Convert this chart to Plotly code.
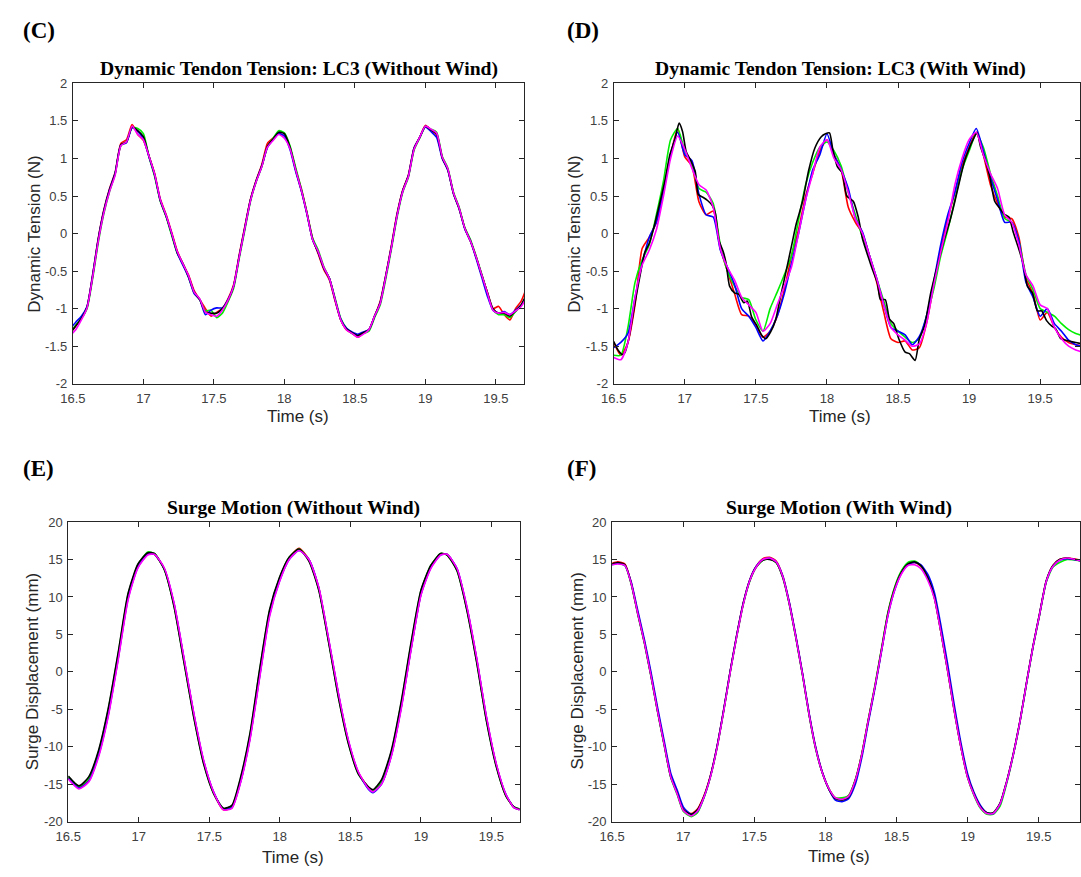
import plotly.graph_objects as go

W, H = 1081, 877

# ---------------- Panel C : tension without wind (common time grid) ----------------
T_C = [16.48, 16.52, 16.56, 16.60, 16.64, 16.68, 16.72, 16.76, 16.80, 16.84,
       16.88, 16.92, 16.96, 17.00, 17.04, 17.08, 17.12, 17.16, 17.20, 17.24,
       17.28, 17.32, 17.36, 17.40, 17.44, 17.48, 17.52, 17.56, 17.60, 17.64,
       17.68, 17.72, 17.76, 17.80, 17.84, 17.88, 17.92, 17.96, 18.00, 18.04,
       18.08, 18.12, 18.16, 18.20, 18.24, 18.28, 18.32, 18.36, 18.40, 18.44,
       18.48, 18.52, 18.56, 18.60, 18.64, 18.68, 18.72, 18.76, 18.80, 18.84,
       18.88, 18.92, 18.96, 19.00, 19.04, 19.08, 19.12, 19.16, 19.20, 19.24,
       19.28, 19.32, 19.36, 19.40, 19.44, 19.48, 19.52, 19.56, 19.60, 19.64,
       19.68, 19.72, 19.76, 19.80]
C_black = [-1.33, -1.23, -1.13, -0.98, -0.57, -0.08, 0.30, 0.58, 0.80, 1.18,
           1.22, 1.42, 1.37, 1.29, 1.03, 0.78, 0.44, 0.24, 0.00, -0.25,
           -0.40, -0.57, -0.78, -0.88, -1.05, -1.06, -1.06, -1.00, -0.89, -0.70,
           -0.30, 0.08, 0.45, 0.70, 0.90, 1.16, 1.26, 1.35, 1.33, 1.15,
           0.85, 0.58, 0.27, -0.08, -0.25, -0.46, -0.60, -0.88, -1.15, -1.27,
           -1.32, -1.36, -1.32, -1.28, -1.10, -0.92, -0.56, -0.17, 0.25, 0.57,
           0.77, 1.13, 1.28, 1.43, 1.38, 1.33, 1.01, 0.85, 0.53, 0.33,
           0.07, -0.10, -0.31, -0.55, -0.78, -1.00, -1.06, -1.06, -1.10, -1.03,
           -0.95, -0.80, -0.62, -0.50]
C_red = [-1.33, -1.23, -1.13, -0.98, -0.55, -0.06, 0.32, 0.60, 0.82, 1.20,
         1.25, 1.45, 1.32, 1.24, 1.03, 0.80, 0.46, 0.26, 0.02, -0.23,
         -0.40, -0.55, -0.76, -0.88, -1.00, -1.10, -1.05, -1.00, -0.87, -0.68,
         -0.28, 0.10, 0.46, 0.71, 0.92, 1.20, 1.27, 1.33, 1.30, 1.15,
         0.86, 0.60, 0.28, -0.06, -0.27, -0.48, -0.62, -0.90, -1.15, -1.28,
         -1.33, -1.38, -1.33, -1.28, -1.10, -0.90, -0.55, -0.15, 0.27, 0.58,
         0.78, 1.14, 1.28, 1.44, 1.38, 1.31, 1.02, 0.85, 0.54, 0.34,
         0.07, -0.10, -0.31, -0.55, -0.78, -1.00, -0.97, -1.08, -1.15, -1.00,
         -0.90, -0.72, -0.60, -0.50]
C_green = [-1.31, -1.22, -1.13, -1.00, -0.60, -0.12, 0.27, 0.56, 0.80, 1.17,
           1.22, 1.41, 1.40, 1.33, 1.02, 0.76, 0.43, 0.23, -0.02, -0.26,
           -0.40, -0.58, -0.79, -0.88, -1.03, -1.02, -1.12, -1.06, -0.91, -0.73,
           -0.33, 0.05, 0.43, 0.69, 0.89, 1.15, 1.27, 1.37, 1.34, 1.17,
           0.88, 0.60, 0.28, -0.06, -0.22, -0.44, -0.60, -0.86, -1.13, -1.26,
           -1.33, -1.35, -1.33, -1.30, -1.12, -0.95, -0.60, -0.20, 0.22, 0.55,
           0.75, 1.11, 1.27, 1.42, 1.39, 1.35, 1.03, 0.87, 0.55, 0.35,
           0.08, -0.08, -0.30, -0.54, -0.80, -1.02, -1.08, -1.08, -1.12, -1.04,
           -0.96, -0.82, -0.64, -0.52]
C_blue = [-1.27, -1.18, -1.10, -0.97, -0.55, -0.07, 0.31, 0.59, 0.81, 1.18,
          1.21, 1.41, 1.36, 1.26, 1.02, 0.78, 0.44, 0.24, 0.00, -0.26,
          -0.42, -0.58, -0.80, -0.88, -1.08, -1.02, -0.99, -0.99, -0.88, -0.70,
          -0.30, 0.08, 0.45, 0.70, 0.90, 1.15, 1.25, 1.33, 1.30, 1.12,
          0.83, 0.57, 0.26, -0.08, -0.25, -0.46, -0.60, -0.88, -1.14, -1.26,
          -1.31, -1.34, -1.31, -1.28, -1.10, -0.92, -0.56, -0.17, 0.25, 0.57,
          0.77, 1.14, 1.28, 1.42, 1.36, 1.28, 1.00, 0.84, 0.53, 0.33,
          0.06, -0.10, -0.33, -0.58, -0.83, -1.02, -1.06, -1.04, -1.08, -1.02,
          -0.95, -0.82, -0.64, -0.52]
C_magenta = [-1.36, -1.28, -1.15, -0.99, -0.58, -0.10, 0.28, 0.56, 0.78, 1.17,
             1.22, 1.43, 1.32, 1.25, 1.03, 0.79, 0.45, 0.25, 0.01, -0.24,
             -0.40, -0.56, -0.78, -0.87, -1.05, -1.08, -1.10, -1.02, -0.89, -0.70,
             -0.31, 0.07, 0.44, 0.69, 0.89, 1.15, 1.24, 1.32, 1.27, 1.13,
             0.85, 0.58, 0.27, -0.08, -0.24, -0.45, -0.60, -0.88, -1.15, -1.28,
             -1.33, -1.38, -1.34, -1.28, -1.10, -0.93, -0.57, -0.18, 0.24, 0.56,
             0.76, 1.12, 1.28, 1.43, 1.39, 1.34, 1.02, 0.86, 0.54, 0.34,
             0.07, -0.10, -0.31, -0.55, -0.79, -1.02, -1.06, -1.05, -1.08, -1.03,
             -0.97, -0.84, -0.65, -0.52]

# ---------------- Panel D : tension with wind ----------------
T_D_black = [16.48, 16.50, 16.53, 16.56, 16.58, 16.606, 16.65, 16.684, 16.717, 16.75,
             16.784, 16.817, 16.86, 16.895, 16.93, 16.96, 16.984, 17.01, 17.04, 17.073,
             17.095, 17.13, 17.16, 17.195, 17.216, 17.24, 17.27, 17.29, 17.315, 17.35,
             17.38, 17.415, 17.44, 17.47, 17.505, 17.54, 17.57, 17.604, 17.64, 17.67,
             17.715, 17.75, 17.784, 17.83, 17.87, 17.915, 17.96, 17.99, 18.018, 18.04,
             18.073, 18.107, 18.14, 18.185, 18.22, 18.25, 18.29, 18.32, 18.355, 18.376,
             18.41, 18.44, 18.47, 18.505, 18.55, 18.58, 18.62, 18.65, 18.686, 18.73,
             18.775, 18.82, 18.865, 18.9, 18.933, 18.967, 19.0, 19.033, 19.056, 19.08,
             19.11, 19.145, 19.18, 19.21, 19.245, 19.28, 19.31, 19.345, 19.38, 19.41,
             19.445, 19.48, 19.51, 19.545, 19.58, 19.61, 19.645, 19.7, 19.8]
D_black = [-1.38, -1.44, -1.55, -1.61, -1.58, -1.40, -0.92, -0.57, -0.26, -0.13,
           0.09, 0.35, 0.70, 1.05, 1.25, 1.47, 1.36, 1.09, 0.98, 0.83,
           0.52, 0.48, 0.44, 0.37, 0.26, -0.09, -0.24, -0.39, -0.70, -0.79,
           -0.81, -0.92, -0.90, -1.11, -1.22, -1.35, -1.40, -1.31, -1.14, -0.87,
           -0.48, -0.17, 0.13, 0.44, 0.83, 1.14, 1.29, 1.33, 1.34, 1.13,
           0.89, 0.81, 0.50, 0.43, 0.22, -0.07, -0.31, -0.48, -0.66, -0.88,
           -0.88, -1.14, -1.20, -1.40, -1.58, -1.60, -1.69, -1.40, -1.23, -0.79,
           -0.44, -0.11, 0.17, 0.43, 0.70, 0.96, 1.13, 1.27, 1.35, 1.16,
           1.00, 0.76, 0.43, 0.35, 0.26, 0.22, 0.02, -0.18, -0.40, -0.70,
           -0.79, -1.03, -1.03, -1.16, -1.23, -1.27, -1.40, -1.43, -1.47]

T_D = [16.50, 16.55, 16.60, 16.65, 16.70, 16.75, 16.80, 16.85, 16.90, 16.95,
       17.00, 17.05, 17.10, 17.15, 17.20, 17.25, 17.30, 17.35, 17.40, 17.45,
       17.50, 17.55, 17.60, 17.65, 17.70, 17.75, 17.80, 17.85, 17.90, 17.95,
       18.00, 18.05, 18.10, 18.15, 18.20, 18.25, 18.30, 18.35, 18.40, 18.45,
       18.50, 18.55, 18.60, 18.65, 18.70, 18.75, 18.80, 18.85, 18.90, 18.95,
       19.00, 19.05, 19.10, 19.15, 19.20, 19.25, 19.30, 19.35, 19.40, 19.45,
       19.50, 19.55, 19.60, 19.65, 19.70, 19.75, 19.80]
D_green = [-1.62, -1.62, -1.25, -0.65, -0.35, -0.15, 0.25, 0.70, 1.25, 1.40,
           1.10, 0.92, 0.60, 0.55, 0.40, -0.15, -0.50, -0.70, -0.85, -0.88,
           -1.15, -1.30, -1.00, -0.78, -0.55, -0.30, 0.18, 0.65, 0.95, 1.15,
           1.22, 1.10, 0.90, 0.55, 0.25, -0.05, -0.30, -0.60, -0.90, -1.20,
           -1.30, -1.38, -1.45, -1.40, -1.10, -0.75, -0.30, 0.05, 0.45, 0.85,
           1.10, 1.33, 1.15, 0.80, 0.50, 0.20, 0.15, -0.10, -0.55, -0.75,
           -1.00, -1.05, -1.10, -1.20, -1.28, -1.33, -1.36]
D_blue = [-1.52, -1.45, -1.33, -0.85, -0.40, -0.05, 0.15, 0.55, 1.05, 1.35,
          1.05, 0.97, 0.52, 0.25, 0.22, -0.22, -0.45, -0.68, -1.00, -1.10,
          -1.25, -1.43, -1.30, -1.10, -0.80, -0.40, 0.00, 0.45, 0.85, 1.05,
          1.33, 1.05, 0.85, 0.60, 0.20, 0.02, -0.30, -0.60, -0.95, -1.25,
          -1.30, -1.35, -1.48, -1.37, -1.10, -0.65, -0.15, 0.25, 0.55, 0.95,
          1.20, 1.40, 1.10, 0.75, 0.45, 0.15, 0.15, -0.10, -0.65, -0.85,
          -1.10, -1.00, -1.20, -1.30, -1.42, -1.48, -1.50]
D_red = [-1.45, -1.62, -1.45, -0.95, -0.20, -0.05, 0.15, 0.60, 1.05, 1.40,
         1.02, 0.90, 0.42, 0.25, 0.30, -0.20, -0.50, -0.80, -1.08, -1.10,
         -1.22, -1.38, -1.30, -1.10, -0.75, -0.30, 0.05, 0.50, 0.80, 1.10,
         1.25, 1.05, 0.85, 0.35, 0.15, 0.00, -0.30, -0.65, -1.05, -1.40,
         -1.45, -1.43, -1.55, -1.52, -1.20, -0.70, -0.20, 0.20, 0.55, 0.90,
         1.15, 1.35, 1.05, 0.65, 0.40, 0.22, 0.20, -0.05, -0.60, -0.80,
         -1.15, -1.05, -1.25, -1.38, -1.45, -1.48, -1.50]
D_magenta = [-1.65, -1.68, -1.45, -0.85, -0.42, -0.22, 0.05, 0.50, 1.00, 1.30,
             1.12, 0.87, 0.65, 0.58, 0.35, -0.20, -0.45, -0.62, -0.85, -0.95,
             -1.05, -1.30, -1.20, -0.95, -0.70, -0.45, 0.00, 0.45, 0.80, 1.15,
             1.25, 1.00, 0.85, 0.55, 0.20, 0.00, -0.30, -0.60, -0.95, -1.25,
             -1.35, -1.42, -1.50, -1.47, -1.20, -0.70, -0.25, 0.15, 0.65, 1.00,
             1.25, 1.35, 1.05, 0.80, 0.60, 0.25, 0.15, -0.15, -0.55, -0.70,
             -0.95, -1.00, -1.25, -1.40, -1.50, -1.55, -1.58]

# ---------------- Panel E : surge without wind ----------------
T_E = [16.50, 16.575, 16.645, 16.714, 16.784, 16.854, 16.924, 16.994, 17.064, 17.11,
       17.18, 17.25, 17.32, 17.39, 17.46, 17.53, 17.60, 17.66, 17.717, 17.787,
       17.857, 17.927, 17.997, 18.066, 18.136, 18.206, 18.276, 18.346, 18.416, 18.486,
       18.556, 18.626, 18.66, 18.72, 18.79, 18.86, 18.93, 19.0, 19.07, 19.14,
       19.185, 19.256, 19.325, 19.395, 19.465, 19.535, 19.604, 19.66, 19.70]
E_black = [-13.9, -15.2, -14.0, -10.5, -4.8, 2.6, 10.5, 14.4, 15.9, 15.8,
           13.7, 8.7, 1.3, -6.1, -12.3, -16.2, -18.2, -17.8, -14.4, -8.3,
           0.4, 8.3, 12.6, 15.3, 16.4, 14.8, 10.9, 3.9, -3.5, -9.6,
           -13.6, -15.3, -15.7, -14.4, -10.5, -4.0, 3.9, 10.9, 14.2, 15.8,
           15.6, 13.5, 8.3, 1.3, -6.6, -12.7, -16.6, -18.0, -18.3]
E_green = [-14.0, -15.3, -14.2, -10.7, -5.0, 2.4, 10.3, 14.3, 16.0, 15.8,
           13.7, 8.8, 1.4, -6.0, -12.2, -16.2, -18.2, -17.9, -14.6, -8.5,
           0.2, 8.1, 12.5, 15.3, 16.4, 14.9, 11.0, 4.0, -3.4, -9.5,
           -13.6, -15.4, -15.9, -14.6, -10.7, -4.2, 3.7, 10.8, 14.2, 15.8,
           15.6, 13.5, 8.4, 1.4, -6.5, -12.6, -16.6, -18.0, -18.3]
E_blue = [-14.2, -15.5, -14.6, -11.2, -5.7, 1.8, 9.8, 14.0, 15.7, 15.7,
          13.8, 9.1, 1.8, -5.6, -11.9, -16.0, -18.3, -18.1, -15.0, -9.0,
          -0.6, 7.6, 12.1, 15.0, 16.2, 15.0, 11.2, 4.3, -3.0, -9.2,
          -13.4, -15.6, -16.1, -15.0, -11.2, -4.8, 3.0, 10.3, 13.9, 15.6,
          15.7, 13.8, 8.7, 1.8, -6.1, -12.4, -16.4, -18.1, -18.4]
E_red = [-14.2, -15.4, -14.5, -11.1, -5.5, 2.0, 10.0, 14.1, 15.8, 15.7,
         13.8, 9.0, 1.7, -5.7, -12.0, -16.1, -18.4, -18.1, -14.9, -8.9,
         -0.4, 7.8, 12.3, 15.2, 16.5, 15.0, 11.2, 4.2, -3.1, -9.3,
         -13.4, -15.4, -15.9, -14.9, -11.1, -4.7, 3.1, 10.4, 14.0, 15.7,
         15.7, 13.7, 8.6, 1.7, -6.2, -12.4, -16.5, -18.1, -18.4]
E_magenta = [-14.3, -15.6, -14.7, -11.4, -5.9, 1.6, 9.6, 13.9, 15.6, 15.7,
             13.9, 9.2, 1.9, -5.5, -11.8, -16.0, -18.4, -18.2, -15.1, -9.2,
             -0.8, 7.4, 12.0, 15.0, 16.2, 15.0, 11.3, 4.4, -2.9, -9.1,
             -13.3, -15.5, -16.0, -15.0, -11.3, -5.0, 2.9, 10.2, 13.8, 15.6,
             15.7, 13.8, 8.8, 1.9, -6.0, -12.3, -16.4, -18.1, -18.4]

# ---------------- Panel F : surge with wind ----------------
T_F = [16.50, 16.54, 16.59, 16.634, 16.68, 16.727, 16.773, 16.82, 16.866, 16.912,
       16.958, 17.0, 17.056, 17.1, 17.144, 17.19, 17.237, 17.283, 17.33, 17.376,
       17.422, 17.468, 17.51, 17.56, 17.607, 17.653, 17.70, 17.746, 17.79, 17.84,
       17.885, 17.93, 17.98, 18.028, 18.07, 18.117, 18.163, 18.21, 18.256, 18.3,
       18.35, 18.395, 18.44, 18.49, 18.535, 18.58, 18.626, 18.67, 18.72, 18.766,
       18.81, 18.858, 18.904, 18.95, 19.0, 19.043, 19.09, 19.136, 19.18, 19.228,
       19.27, 19.32, 19.367, 19.414, 19.46, 19.506, 19.553, 19.6, 19.646, 19.70,
       19.80]
F_black = [14.4, 14.6, 14.3, 11.8, 7.8, 3.9, -0.5, -5.3, -9.7, -14.0,
           -16.2, -18.4, -19.0, -18.4, -16.7, -14.0, -10.1, -5.3, 0.0, 4.8,
           9.1, 12.2, 13.9, 14.9, 15.0, 14.6, 12.6, 9.1, 4.8, -0.5,
           -5.7, -10.1, -13.6, -15.8, -16.9, -17.1, -16.7, -14.5, -11.0, -6.6,
           -1.8, 3.0, 7.8, 11.3, 13.3, 14.4, 14.7, 14.2, 12.6, 10.0,
           5.6, 0.4, -4.9, -9.7, -14.0, -16.2, -18.0, -18.8, -18.8, -17.5,
           -14.9, -11.0, -6.6, -1.4, 3.5, 7.8, 12.2, 14.2, 15.0, 15.2,
           14.8]
F_green = [14.3, 14.5, 14.2, 11.7, 7.7, 3.8, -0.6, -5.4, -9.8, -14.1,
           -16.4, -18.6, -19.3, -18.8, -16.9, -14.1, -10.2, -5.4, -0.1, 4.7,
           9.0, 12.1, 13.9, 14.9, 15.1, 14.6, 12.6, 9.0, 4.7, -0.6,
           -5.8, -10.2, -13.6, -15.7, -16.8, -16.8, -16.5, -14.4, -10.9, -6.5,
           -1.6, 3.2, 8.0, 11.5, 13.5, 14.6, 14.8, 14.2, 12.5, 9.9,
           5.5, 0.3, -5.0, -9.8, -14.1, -16.4, -18.2, -19.0, -19.0, -17.9,
           -15.2, -11.2, -6.8, -1.6, 3.3, 7.6, 12.0, 14.0, 14.6, 15.0,
           14.8]
F_blue = [14.3, 14.5, 14.2, 12.0, 8.2, 4.3, 0.0, -4.8, -9.2, -13.5,
          -15.8, -18.0, -19.0, -18.6, -16.8, -14.0, -10.0, -5.2, 0.1, 4.9,
          9.2, 12.3, 14.0, 15.0, 15.2, 14.7, 12.8, 9.3, 5.0, -0.3,
          -5.5, -9.9, -13.5, -15.8, -17.1, -17.3, -16.9, -15.0, -11.4, -6.9,
          -2.0, 2.8, 7.6, 11.1, 13.2, 14.3, 14.6, 14.3, 13.0, 10.6,
          6.4, 1.2, -4.2, -9.2, -13.6, -16.0, -17.8, -18.8, -18.9, -17.6,
          -15.0, -11.1, -6.7, -1.5, 3.4, 7.7, 12.1, 14.1, 14.9, 15.1,
          14.8]
F_red = [14.5, 14.7, 14.4, 11.9, 7.9, 4.0, -0.4, -5.2, -9.6, -13.9,
         -16.1, -18.3, -18.9, -18.3, -16.6, -13.9, -10.0, -5.2, 0.1, 4.9,
         9.2, 12.3, 14.0, 15.1, 15.3, 14.8, 12.8, 9.2, 4.9, -0.4,
         -5.6, -10.0, -13.5, -15.7, -16.8, -16.9, -16.5, -14.4, -10.9, -6.5,
         -1.7, 3.1, 7.9, 11.4, 13.4, 14.4, 14.6, 14.1, 12.5, 9.9,
         5.5, 0.3, -5.0, -9.8, -14.1, -16.3, -18.1, -18.9, -18.9, -17.6,
         -15.0, -11.1, -6.7, -1.5, 3.4, 7.7, 12.1, 14.2, 15.0, 15.2,
         14.9]
F_magenta = [14.3, 14.4, 14.2, 11.8, 7.8, 3.9, -0.5, -5.3, -9.7, -14.0,
             -16.3, -18.5, -19.2, -18.6, -16.8, -14.1, -10.2, -5.4, -0.1, 4.7,
             9.0, 12.2, 13.9, 15.0, 15.2, 14.7, 12.7, 9.1, 4.8, -0.5,
             -5.7, -10.1, -13.6, -15.7, -16.8, -17.0, -16.6, -14.5, -11.0, -6.6,
             -1.8, 2.9, 7.6, 11.1, 13.1, 14.2, 14.3, 13.8, 12.2, 9.8,
             5.5, 0.3, -5.0, -9.8, -14.1, -16.3, -18.1, -18.9, -18.9, -17.6,
             -15.0, -11.1, -6.7, -1.5, 3.4, 7.7, 12.1, 14.1, 14.9, 15.2,
             14.8]

# ---------------- tick labels / texts ----------------
X_TICKS = [16.5, 17, 17.5, 18, 18.5, 19, 19.5]
X_TICKTEXT = ["16.5", "17", "17.5", "18", "18.5", "19", "19.5"]
Y_TICKS_T = [-2, -1.5, -1, -0.5, 0, 0.5, 1, 1.5, 2]
Y_TICKTEXT_T = ["-2", "-1.5", "-1", "-0.5", "0", "0.5", "1", "1.5", "2"]
Y_TICKS_S = [-20, -15, -10, -5, 0, 5, 10, 15, 20]
Y_TICKTEXT_S = ["-20", "-15", "-10", "-5", "0", "5", "10", "15", "20"]

COL = {"red": "#ff0000", "green": "#00ee00", "blue": "#0000ff",
       "black": "#000000", "magenta": "#ff00ff"}

fig = go.Figure()


def add(ax, t, y, c):
    fig.add_trace(go.Scatter(
        x=t, y=y, mode="lines", xaxis="x" + ax, yaxis="y" + ax,
        line=dict(color=COL[c], width=1.6, shape="spline", smoothing=0.6),
        showlegend=False, hoverinfo="skip"))


# panel C
add("", T_C, C_red, "red")
add("", T_C, C_green, "green")
add("", T_C, C_blue, "blue")
add("", T_C, C_black, "black")
add("", T_C, C_magenta, "magenta")
# panel D
add("2", T_D, D_red, "red")
add("2", T_D, D_green, "green")
add("2", T_D, D_blue, "blue")
add("2", T_D_black, D_black, "black")
add("2", T_D, D_magenta, "magenta")
# panel E
add("3", T_E, E_red, "red")
add("3", T_E, E_green, "green")
add("3", T_E, E_blue, "blue")
add("3", T_E, E_black, "black")
add("3", T_E, E_magenta, "magenta")
# panel F
add("4", T_F, F_red, "red")
add("4", T_F, F_green, "green")
add("4", T_F, F_blue, "blue")
add("4", T_F, F_black, "black")
add("4", T_F, F_magenta, "magenta")

AX = "#262626"
TICKFONT = dict(family="Liberation Sans, Arial, sans-serif", size=13, color="#404040")


def xax(domain, rng, anchor):
    return dict(domain=domain, range=rng, anchor=anchor, showline=True, linecolor=AX,
                linewidth=1, mirror="ticks", ticks="inside", ticklen=5, tickwidth=1,
                tickcolor=AX, showgrid=False, zeroline=False, tickvals=X_TICKS,
                ticktext=X_TICKTEXT, tickfont=TICKFONT, fixedrange=True,
                ticklabelstandoff=3)


def yax(domain, rng, anchor, tv, tt):
    return dict(domain=domain, range=rng, anchor=anchor, showline=True, linecolor=AX,
                linewidth=1, mirror="ticks", ticks="inside", ticklen=5, tickwidth=1,
                tickcolor=AX, showgrid=False, zeroline=False, tickvals=tv,
                ticktext=tt, tickfont=TICKFONT, fixedrange=True,
                ticklabelstandoff=2)


def px(x):
    return x / W


def py(y):
    return 1 - y / H


topY = [py(383.3), py(77.7)]
botY = [py(829), py(524)]

fig.update_layout(
    width=W, height=H, margin=dict(l=0, r=0, t=0, b=0),
    paper_bgcolor="white", plot_bgcolor="white", showlegend=False,
    xaxis=xax([px(60.7), px(517.7)], [16.5, 19.7], "y"),
    yaxis=yax(topY, [-2, 2], "x", Y_TICKS_T, Y_TICKTEXT_T),
    xaxis2=xax([px(608.6), 1.0], [16.5, 19.78], "y2"),
    yaxis2=yax(topY, [-2, 2], "x2", Y_TICKS_T, Y_TICKTEXT_T),
    xaxis3=xax([px(56), px(513.3)], [16.5, 19.7], "y3"),
    yaxis3=yax(botY, [-20, 20], "x3", Y_TICKS_S, Y_TICKTEXT_S),
    xaxis4=xax([px(607), 1.0], [16.5, 19.79], "y4"),
    yaxis4=yax(botY, [-20, 20], "x4", Y_TICKS_S, Y_TICKTEXT_S),
)

SERIF = "Liberation Serif, Times New Roman, serif"
SANS = "Liberation Sans, Arial, sans-serif"


def note(text, x, y, font, size, bold=False, color="#000000", angle=0, xanchor="center"):
    fig.add_annotation(
        text=("<b>%s</b>" % text) if bold else text,
        x=px(x), y=py(y), xref="paper", yref="paper", showarrow=False,
        xanchor=xanchor, yanchor="middle", textangle=angle, borderpad=0,
        font=dict(family=font, size=size, color=color))


# panel letters
note("(C)", 9, 24, SERIF, 23, bold=True, xanchor="left")
note("(D)", 560, 24, SERIF, 23, bold=True, xanchor="left")
note("(E)", 9, 470, SERIF, 23, bold=True, xanchor="left")
note("(F)", 560, 470, SERIF, 23, bold=True, xanchor="left")

# titles
note("Dynamic Tendon Tension: LC3 (Without Wind)", 289.5, 63, SERIF, 19.6, bold=True)
note("Dynamic Tendon Tension: LC3 (With Wind)", 838.5, 63, SERIF, 19.6, bold=True)
note("Surge Motion (Without Wind)", 284.5, 510, SERIF, 19.6, bold=True)
note("Surge Motion (With Wind)", 836.7, 510, SERIF, 19.6, bold=True)

# axis titles
note("Time (s)", 289, 417, SANS, 17, color=AX)
note("Time (s)", 838, 417, SANS, 17, color=AX)
note("Time (s)", 284, 865, SANS, 17, color=AX)
note("Time (s)", 836.7, 864, SANS, 17, color=AX)
note("Dynamic Tension (N)", 21, 231, SANS, 17, color=AX, angle=-90)
note("Dynamic Tension (N)", 568, 231, SANS, 17, color=AX, angle=-90)
note("Surge Displacement (mm)", 20, 676, SANS, 17, color=AX, angle=-90)
note("Surge Displacement (mm)", 571.5, 676, SANS, 17, color=AX, angle=-90)

fig.write_html("out.html")
